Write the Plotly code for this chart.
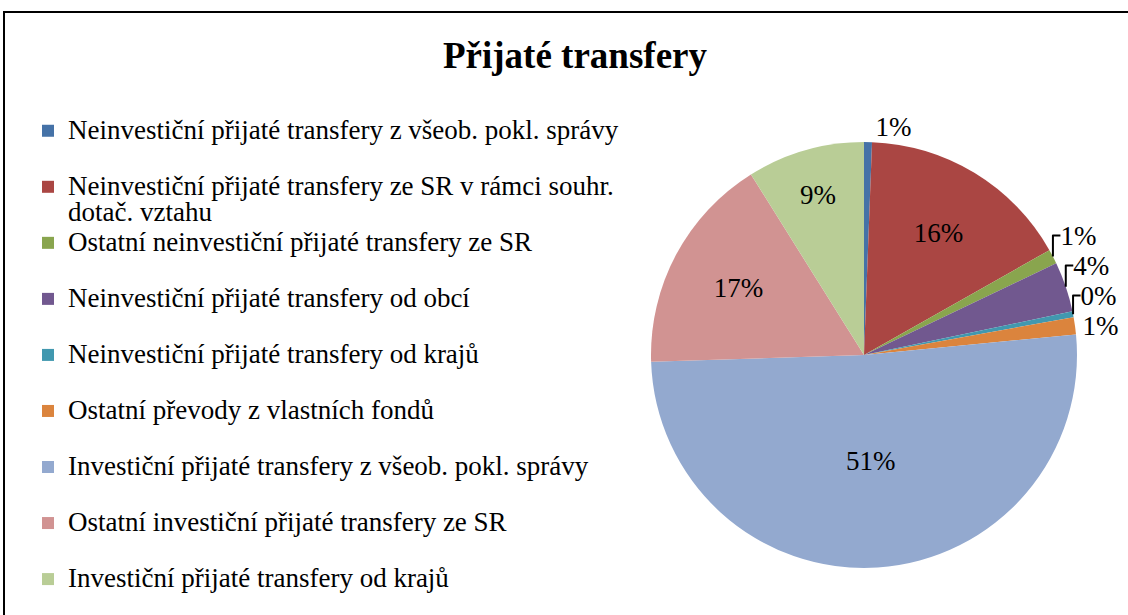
import plotly.graph_objects as go

# ---- data ----
categories = [
    "Neinvestiční přijaté transfery z všeob. pokl. správy",
    "Neinvestiční přijaté transfery ze SR v rámci souhr.<br>dotač. vztahu",
    "Ostatní neinvestiční přijaté transfery ze SR",
    "Neinvestiční přijaté transfery od obcí",
    "Neinvestiční přijaté transfery od krajů",
    "Ostatní převody z vlastních fondů",
    "Investiční přijaté transfery z všeob. pokl. správy",
    "Ostatní investiční přijaté transfery ze SR",
    "Investiční přijaté transfery od krajů",
]
shares = [0.6, 16.2, 1.1, 3.8, 0.45, 1.3, 51.0, 16.6, 8.9]
colors = ["#4572A7", "#AA4643", "#89A54E", "#71588F", "#4198AF",
          "#DB843D", "#93A9CF", "#D19392", "#B9CD96"]
text_pos = ["outside", "inside", "outside", "outside", "outside",
            "outside", "inside", "inside", "inside"]

W, H = 1128, 615
FONT = "Liberation Serif, Times New Roman, serif"
BIG = 27


def legend_label(name):
    parts = name.split("<br>")
    spans = [f'<span style="font-size:{BIG}px">{p}</span>' for p in parts]
    if len(spans) == 1:
        spans.append(" ")
    return "<br>".join(spans)


labels = [legend_label(c) for c in categories]
plain = [c.replace("<br>", " ") for c in categories]

cx, cy, r = 864, 355, 213

fig = go.Figure(go.Pie(
    labels=labels,
    values=shares,
    customdata=plain,
    sort=False,
    direction="clockwise",
    rotation=0,
    marker=dict(colors=colors, line=dict(width=0)),
    textposition=text_pos,
    texttemplate="%{percent:.0%}",
    textfont=dict(family=FONT, size=BIG, color="black"),
    insidetextorientation="horizontal",
    hovertemplate="%{customdata}: %{percent}<extra></extra>",
    domain=dict(x=[(cx - r) / W, (cx + r) / W], y=[(H - cy - r) / H, (H - cy + r) / H]),
))

fig.update_layout(
    width=W, height=H,
    margin=dict(l=0, r=0, t=0, b=0, autoexpand=False),
    paper_bgcolor="white",
    plot_bgcolor="white",
    font=dict(family=FONT, color="black"),
    title=dict(text="<b>Přijaté transfery</b>", x=575 / W, y=1 - 55 / H,
               xanchor="center", yanchor="middle",
               font=dict(family=FONT, size=37, color="black")),
    legend=dict(x=28 / W, y=1 - 111 / H, xanchor="left", yanchor="top",
                valign="top", font=dict(family=FONT, size=20.4, color="black"),
                bgcolor="rgba(0,0,0,0)", traceorder="normal"),
    shapes=[dict(type="rect", xref="paper", yref="paper",
                 x0=4 / W, x1=1.2, y0=-0.2, y1=1 - 12 / H,
                 line=dict(color="black", width=2), fillcolor="rgba(0,0,0,0)")],
)

fig.write_html(
    "out.html",
    config={"displayModeBar": False},
    post_script="document.body.style.margin='0';document.body.style.overflow='hidden';",
)
